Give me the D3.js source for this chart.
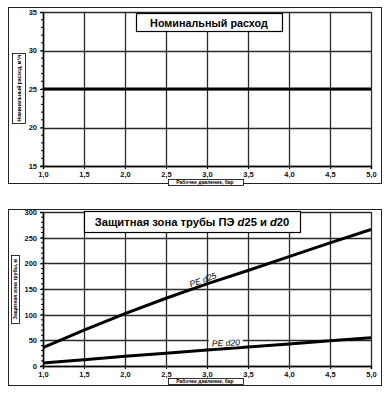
<!DOCTYPE html>
<html><head><meta charset="utf-8">
<script src="https://cdn.jsdelivr.net/npm/d3@7"></script>
<style>body{margin:0;background:#fff}svg{display:block}text{font-family:"Liberation Sans",Arial,sans-serif}</style>
</head><body>
<script>
// Data
const pressure = [1.0, 1.5, 2.0, 2.5, 3.0, 3.5, 4.0, 4.5, 5.0];
const nominalFlow = [25, 25, 25, 25, 25, 25, 25, 25, 25];
const zonePE25 = [36, 70, 102, 132, 160, 186, 213, 240, 266];
const zonePE20 = [6, 12, 19, 25, 31, 37, 43, 49, 55];
const xTicks = [1.0, 1.5, 2.0, 2.5, 3.0, 3.5, 4.0, 4.5, 5.0];
const yTicksTop = [15, 20, 25, 30, 35];
const yTicksBottom = [0, 50, 100, 150, 200, 250, 300];
const titleTop = "Номинальный расход";
const xTitle = "Рабочее давление, бар";
const yTitleTop = "Номинальный расход, м³/ч";
const yTitleBottom = "Защитная зона трубы, м";

const svg = d3.select("body").append("svg").attr("width", 391).attr("height", 397);
const fmt = v => d3.format(".1f")(v).replace(".", ",");

function panel(cfg) {
  const g = svg.append("g");
  // outer frame
  g.append("rect").attr("x", 8.5).attr("y", cfg.frameTop + 0.5).attr("width", 373).attr("height", cfg.frameH)
    .attr("fill", "none").attr("stroke", "#222").attr("stroke-width", 1);
  const x = d3.scaleLinear().domain([1, 5]).range([43, 371]);
  const y = d3.scaleLinear().domain(cfg.yDomain).range([cfg.bottom, cfg.top]);
  // grid
  const grid = g.append("g").attr("stroke", "#2a2a2a").attr("stroke-width", 1.3);
  grid.selectAll("line.h").data(cfg.yTicks).join("line")
    .attr("x1", x(1)).attr("x2", x(5)).attr("y1", d => Math.round(y(d)) + 0.5).attr("y2", d => Math.round(y(d)) + 0.5);
  grid.selectAll("line.v").data(xTicks).join("line")
    .attr("y1", y(cfg.yDomain[0])).attr("y2", y(cfg.yDomain[1])).attr("x1", d => Math.round(x(d)) + 0.5).attr("x2", d => Math.round(x(d)) + 0.5);
  // axes
  const xa = g.append("g").attr("transform", `translate(0,${cfg.bottom})`)
    .call(d3.axisBottom(x).tickValues(xTicks).tickFormat(fmt).tickSize(3));
  const ya = g.append("g").attr("transform", `translate(${x(1)},0)`)
    .call(d3.axisLeft(y).tickValues(cfg.yTicks).tickSize(3));
  [xa, ya].forEach(a => {
    a.select(".domain").attr("stroke", "#000").attr("stroke-width", 1.5);
    a.selectAll(".tick line").attr("stroke", "#000");
    a.selectAll("text").attr("font-size", 7.5).attr("font-weight", "bold").attr("fill", "#111");
  });
  xa.selectAll("text").attr("dy", "0.6em");
  // minor ticks on y axis
  const minor = d3.range(cfg.yDomain[0], cfg.yDomain[1], (cfg.yTicks[1] - cfg.yTicks[0]) / 5);
  g.append("g").selectAll("line").data(minor).join("line")
    .attr("x1", x(1) - 2).attr("x2", x(1)).attr("y1", d => y(d)).attr("y2", d => y(d)).attr("stroke", "#000");
  // series
  const line = d3.line().x((d, i) => x(pressure[i])).y(d => y(d));
  cfg.series.forEach(s => {
    g.append("path").datum(s).attr("d", line).attr("fill", "none").attr("stroke", "#000").attr("stroke-width", 3);
  });
  // title box
  const tb = cfg.titleBox;
  g.append("rect").attr("x", tb[0] + 0.5).attr("y", tb[1] + 0.5).attr("width", tb[2]).attr("height", tb[3])
    .attr("fill", "#fff").attr("stroke", "#000").attr("stroke-width", 1.2);
  const tt = g.append("text").attr("x", tb[0] + tb[2] / 2).attr("y", tb[1] + tb[3] / 2 + 4.5)
    .attr("text-anchor", "middle").attr("font-size", cfg.titleSize).attr("font-weight", "bold");
  cfg.titleParts.forEach(p => tt.append("tspan").text(p[0]).attr("font-style", p[1] ? "italic" : null));
  // x title box
  g.append("rect").attr("x", 168.5).attr("y", cfg.xTitleY + 0.5).attr("width", 75).attr("height", 6)
    .attr("fill", "#fff").attr("stroke", "#000").attr("stroke-width", 0.8);
  g.append("text").attr("x", 205).attr("y", cfg.xTitleY + 5.3).attr("text-anchor", "middle")
    .attr("font-size", 5).attr("font-weight", "bold").text(xTitle);
  // y title box
  const yb = cfg.yTitleBox;
  g.append("rect").attr("x", yb[0] + 0.5).attr("y", yb[1] + 0.5).attr("width", yb[2]).attr("height", yb[3])
    .attr("fill", "#fff").attr("stroke", "#000").attr("stroke-width", 0.8);
  g.append("text").attr("transform", `translate(${yb[0] + yb[2] / 2 + 2},${yb[1] + yb[3] / 2}) rotate(-90)`)
    .attr("text-anchor", "middle").attr("font-size", 5).attr("font-weight", "bold").text(cfg.yTitle);
  return { g, x, y };
}

panel({
  frameTop: 7, frameH: 176, top: 12, bottom: 166, yDomain: [15, 35], yTicks: yTicksTop,
  series: [nominalFlow], titleBox: [136, 13, 146, 18], titleSize: 10.8,
  titleParts: [[titleTop, false]], xTitleY: 179, yTitleBox: [12, 53, 13, 70], yTitle: yTitleTop
});

const p2 = panel({
  frameTop: 209, frameH: 176, top: 212, bottom: 366, yDomain: [0, 300], yTicks: yTicksBottom,
  series: [zonePE25, zonePE20], titleBox: [84, 211, 216, 21], titleSize: 11.2,
  titleParts: [["Защитная зона трубы ПЭ ", false], ["d", true], ["25 и ", false], ["d", true], ["20", false]],
  xTitleY: 378, yTitleBox: [11, 255, 8, 68], yTitle: yTitleBottom
});

// series labels
function seriesLabel(text, xv, yv, ang, bg) {
  const px = p2.x(xv), py = p2.y(yv);
  const gl = p2.g.append("g").attr("transform", `translate(${px},${py}) rotate(${ang})`);
  if (bg) gl.append("rect").attr("x", -17).attr("y", -6).attr("width", 34).attr("height", 10).attr("fill", "#fff");
  gl.append("text").attr("text-anchor", "middle").attr("dy", "0.35em").attr("font-size", 8.5).attr("font-style", "italic").text(text);
}
seriesLabel("PE d25", 2.95, 168, -20, false);
seriesLabel("PE d20", 3.23, 45, -3, true);
</script>
</body></html>
